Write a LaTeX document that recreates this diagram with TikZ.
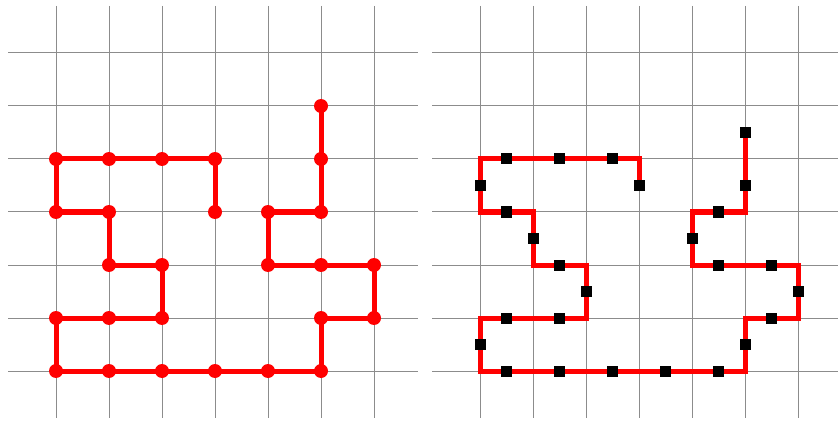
\documentclass[tikz,border=0pt]{standalone}
\usetikzlibrary{calc,backgrounds}
\begin{document}
\begin{tikzpicture}[x=1pt,y=1pt,
  gridline/.style={draw=black!45,line width=1pt},
  redline/.style={draw=red,line width=5pt,line join=miter},
  dot/.style={circle,fill=red,inner sep=0pt,minimum size=14pt},
  sq/.style={rectangle,fill=black,inner sep=0pt,minimum size=11pt}]
\useasboundingbox (0,0) rectangle (838,421);
% path points (left panel, pixel coordinates)
\foreach [count=\i] \x/\y in {321/106,321/159,321/212,268/212,268/265,321/265,374/265,374/318,321/318,321/371,268/371,215/371,162/371,109/371,56/371,56/318,109/318,162/318,162/265,109/265,109/212,56/212,56/159,109/159,162/159,215/159,215/212}{
  \node[dot] (A\i) at (\x,{421-\y}) {};
  \coordinate (B\i) at ({\x+424},{421-\y});
}
\foreach \i [evaluate=\i as \j using int(\i+1)] in {1,...,26}{
  \node[sq] (S\i) at ($(B\i)!0.5!(B\j)$) {};
}
\begin{scope}[on background layer]
  % grids
  \foreach \off/\hs/\he in {0/8/418,424/432/838}{
    \foreach \x in {56,109,162,215,268,321,374}
      \draw[gridline] ({\x+\off},{421-6}) -- ({\x+\off},{421-418});
    \foreach \y in {53,106,159,212,265,318,371}
      \draw[gridline] (\hs,{421-\y}) -- (\he,{421-\y});
  }
  % left walk
  \draw[redline] (A1.center) \foreach \i in {2,...,27}{ -- (A\i.center) };
  % right walk through edge midpoints
  \draw[redline] (S1.center) \foreach \i in {2,...,26}{ -- (B\i) -- (S\i.center) };
\end{scope}
\end{tikzpicture}
\end{document}
